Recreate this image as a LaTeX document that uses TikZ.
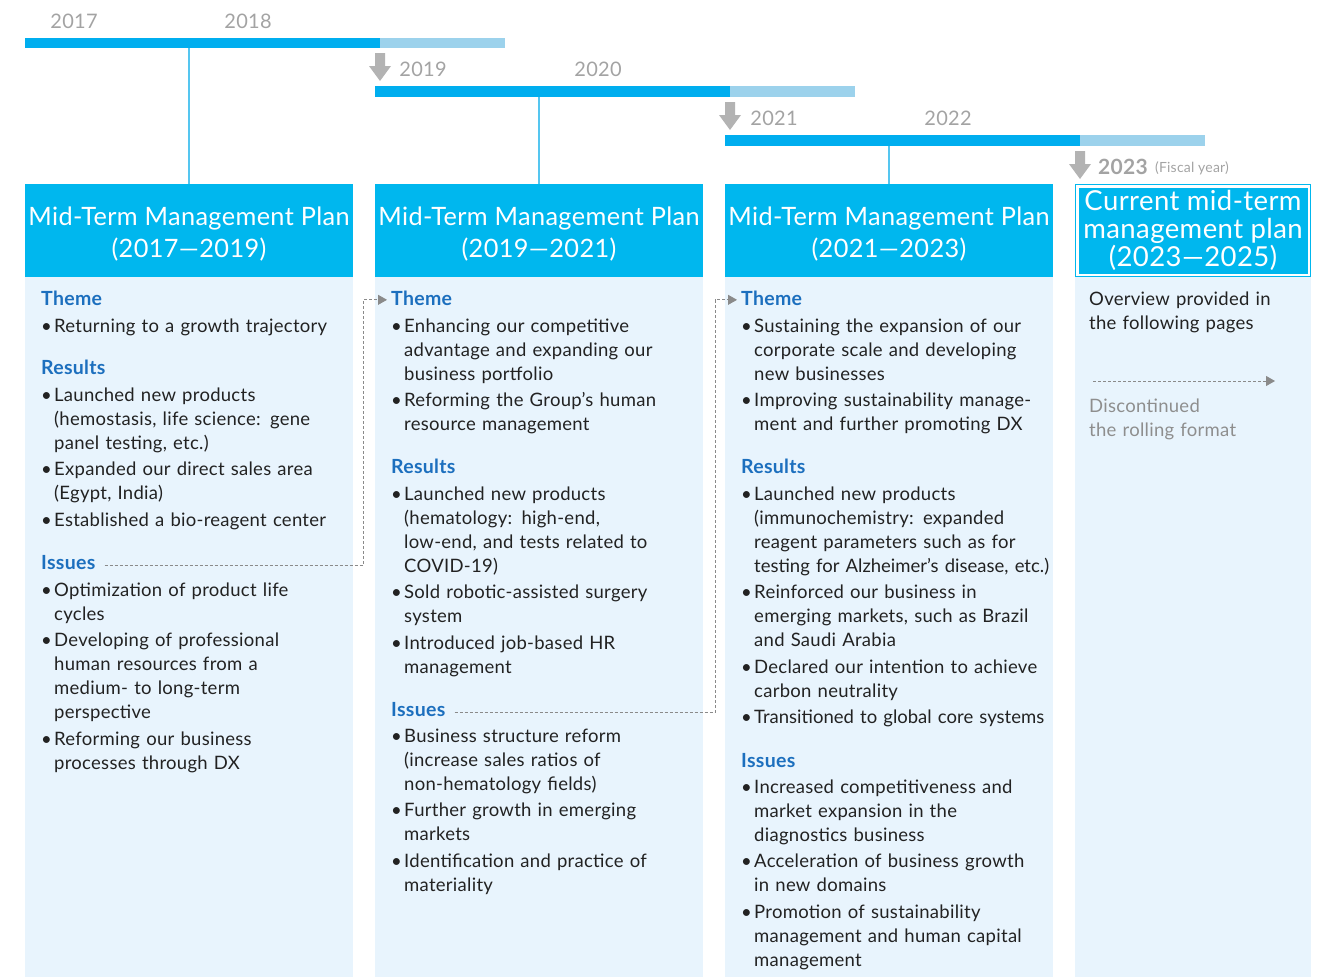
\documentclass[tikz,border=0pt]{standalone}
\usepackage{fontspec}
\setmainfont{Lato}[LetterSpace=1.5]
\usetikzlibrary{arrows.meta}
\definecolor{cyanD}{HTML}{00AEEF}
\definecolor{cyanH}{HTML}{00B7EE}
\definecolor{cyanL}{HTML}{9CD2EC}
\definecolor{bodyF}{HTML}{E8F4FD}
\definecolor{titleB}{HTML}{1C6FBE}
\definecolor{yearG}{HTML}{A3A3A3}
\definecolor{arrG}{HTML}{B3B3B3}
\definecolor{txt}{HTML}{222222}
\definecolor{disc}{HTML}{8E8E8E}
\definecolor{dgray}{HTML}{8A8A8A}
\definecolor{vline}{HTML}{55C6F0}
\newcommand\bl{\makebox[13pt][l]{\textbullet}}
\newcommand\ci{\hspace*{13pt}}
\newcommand\tight[1]{{\addfontfeatures{LetterSpace=0}#1}}
\newcommand\hstrut{\rule{0pt}{25pt}}
\begin{document}
\begin{tikzpicture}[x=1pt,y=-1pt,
  hdr/.style={fill=cyanH, text=white, inner sep=0, align=center, minimum width=328pt, minimum height=93pt, font=\fontsize{25.3}{32}\selectfont},
  ttl/.style={anchor=base west, inner sep=0, text=titleB, font=\fontsize{19.5}{24}\selectfont\bfseries},
  items/.style={anchor=base west, inner sep=0, text width=340pt, align=left, text=txt, font=\fontsize{18.5}{24}\selectfont},
  yr/.style={text=yearG, inner sep=0, font=\fontsize{20}{24}\selectfont},
  dconn/.style={draw=dgray, line width=0.8pt, dash pattern=on 3pt off 2pt, -{Triangle[length=9pt,width=10pt]}},
  vl/.style={draw=vline, line width=1.5pt},
  downarr/.pic={\fill[arrG] (-5,0) -- (5,0) -- (5,13) -- (11,13) -- (0,28) -- (-11,13) -- (-5,13) -- cycle;}
]
\useasboundingbox (0,0) rectangle (1335,977);
% timeline bars
\fill[cyanD] (25,38) rectangle (380,48); \fill[cyanL] (380,38) rectangle (505,48);
\fill[cyanD] (375,86) rectangle (730,97); \fill[cyanL] (730,86) rectangle (855,97);
\fill[cyanD] (725,135) rectangle (1080,146); \fill[cyanL] (1080,135) rectangle (1205,146);
\pic at (380,53) {downarr};
\pic at (730,102) {downarr};
\pic at (1080,151) {downarr};
% years
\node[yr] (y17) at (74,21) {2017};
\node[yr] (y18) at (248,21) {2018};
\node[yr] (y19) at (423,69) {2019};
\node[yr] (y20) at (598,69) {2020};
\node[yr] (y21) at (774,118) {2021};
\node[yr] (y22) at (948,118) {2022};
\node[yr, font=\fontsize{21}{24}\selectfont\bfseries] (y23) at (1123,167) {2023};
\node[yr, font=\fontsize{14}{16}\selectfont] (fy) at (1192,168) {(Fiscal year)};
% body boxes
\fill[bodyF] (25,277) rectangle (353,977);
\fill[bodyF] (375,277) rectangle (703,977);
\fill[bodyF] (725,277) rectangle (1053,977);
\fill[bodyF] (1075,276) rectangle (1311,977);
% headers
\node[hdr] (h1) at (189,230.5) {\hstrut Mid-Term Management Plan\\(2017—2019)};
\node[hdr] (h2) at (539,230.5) {\hstrut Mid-Term Management Plan\\(2019—2021)};
\node[hdr] (h3) at (889,230.5) {\hstrut Mid-Term Management Plan\\(2021—2023)};
\node[draw=cyanH, line width=1pt, fill=white, inner sep=0, minimum width=235pt, minimum height=92pt] (h4f) at (1193,230.5) {};
\node[hdr, minimum width=229pt, minimum height=86pt, font=\fontsize{27.5}{28}\selectfont] (h4) at (1193,230.5) {Current mid-term\\management plan\\(2023—2025)};
% vertical ticks
\coordinate (v1) at (189,48); \coordinate (v2) at (539,97); \coordinate (v3) at (889,146);
\draw[vl] (v1) -- (h1.north);
\draw[vl] (v2) -- (h2.north);
\draw[vl] (v3) -- (h3.north);
% column 1
\node[ttl] (c1th) at (41,305) {Theme};
\node[items] (c1tl) at (41,332) {\bl Returning to a growth trajectory};
\node[ttl] (c1rs) at (41,374) {Results};
\node[items] (c1rl) at (41,401) {\bl Launched new products\\\ci (hemostasis, life science: gene\\\ci panel testing, etc.)\\[2.5pt]\bl Expanded our direct sales area\\\ci (Egypt, India)\\[2.5pt]\bl Established a bio-reagent center};
\node[ttl] (c1is) at (41,569) {Issues};
\node[items] (c1il) at (41,596) {\bl Optimization of product life\\\ci cycles\\[2.5pt]\bl Developing of professional\\\ci human resources from a\\\ci medium- to long-term\\\ci perspective\\[2.5pt]\bl Reforming our business\\\ci processes through DX};
% column 2
\node[ttl] (c2th) at (391,305) {Theme};
\node[items] (c2tl) at (391,332) {\bl Enhancing our competitive\\\ci advantage and expanding our\\\ci business portfolio\\[2.5pt]\bl Reforming the Group’s human\\\ci resource management};
\node[ttl] (c2rs) at (391,473) {Results};
\node[items] (c2rl) at (391,500) {\bl Launched new products\\\ci (hematology: high-end,\\\ci low-end, and tests related to\\\ci COVID-19)\\[2.5pt]\bl Sold robotic-assisted surgery\\\ci system\\[2.5pt]\bl Introduced job-based HR\\\ci management};
\node[ttl] (c2is) at (391,716) {Issues};
\node[items] (c2il) at (391,742) {\bl Business structure reform\\\ci (increase sales ratios of\\\ci non-hematology fields)\\[2.5pt]\bl Further growth in emerging\\\ci markets\\[2.5pt]\bl Identification and practice of\\\ci materiality};
% column 3
\node[ttl] (c3th) at (741,305) {Theme};
\node[items] (c3tl) at (741,332) {\bl Sustaining the expansion of our\\\ci corporate scale and developing\\\ci new businesses\\[2.5pt]\bl Improving sustainability manage-\\\ci ment and further promoting DX};
\node[ttl] (c3rs) at (741,473) {Results};
\node[items] (c3rl) at (741,500) {\bl Launched new products\\\ci (immunochemistry: expanded\\\ci reagent parameters such as for\\\ci \tight{testing for Alzheimer’s disease, etc.)}\\[2.5pt]\bl Reinforced our business in\\\ci emerging markets, such as Brazil\\\ci and Saudi Arabia\\[2.5pt]\bl Declared our intention to achieve\\\ci carbon neutrality\\[2.5pt]\bl \tight{Transitioned to global core systems}};
\node[ttl] (c3is) at (741,767) {Issues};
\node[items] (c3il) at (741,793) {\bl Increased competitiveness and\\\ci market expansion in the\\\ci diagnostics business\\[2.5pt]\bl Acceleration of business growth\\\ci in new domains\\[2.5pt]\bl Promotion of sustainability\\\ci management and human capital\\\ci management};
% column 4
\node[items, text width=220pt] (c4a) at (1089,305) {Overview provided in\\the following pages};
\node[items, text width=220pt, text=disc] (c4b) at (1089,412) {Discontinued\\the rolling format};
\coordinate (d1) at (1093,381); \coordinate (d2) at (1275,381);
\draw[dconn] (d1) -- (d2);
% dashed connectors
\draw[dconn] ([xshift=9pt,yshift=-3pt]c1is.east) -| ([xshift=-28pt,yshift=-2pt]c2th.west) -- ([xshift=-4pt,yshift=-2pt]c2th.west);
\draw[dconn] ([xshift=9pt,yshift=-3pt]c2is.east) -| ([xshift=-26pt,yshift=-2pt]c3th.west) -- ([xshift=-4pt,yshift=-2pt]c3th.west);
\end{tikzpicture}
\end{document}
